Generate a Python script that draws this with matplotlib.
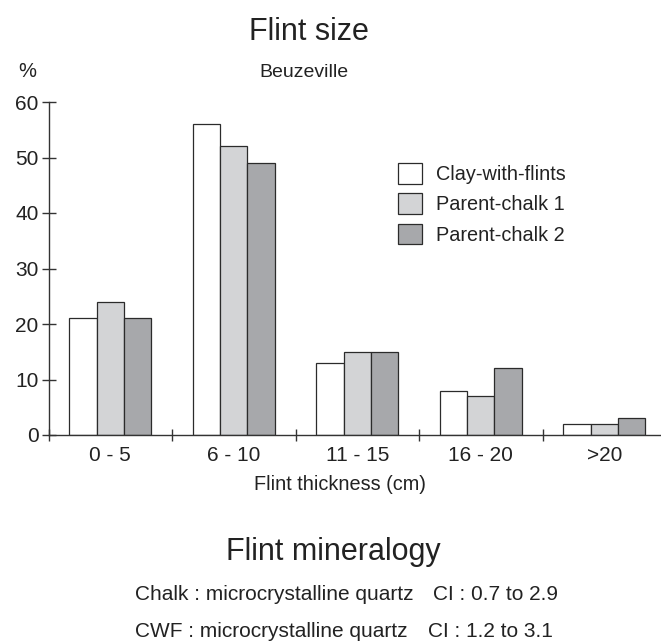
import numpy as np
import matplotlib
matplotlib.use("Agg")
import matplotlib.pyplot as plt

plt.rcParams['font.family'] = ['Liberation Sans', 'DejaVu Sans']

# data
categories = ['0 - 5', '6 - 10', '11 - 15', '16 - 20', '>20']
series_names = ['Clay-with-flints', 'Parent-chalk 1', 'Parent-chalk 2']
clay_with_flints = [21, 56, 13, 8, 2]
parent_chalk_1 = [24, 52, 15, 7, 2]
parent_chalk_2 = [21, 49, 15, 12, 3]
yticks = [0, 10, 20, 30, 40, 50, 60]

colors = ['#ffffff', '#d3d4d6', '#a7a8ab']
edge = '#2b2b2b'
txt = '#222222'

W, H = 661, 642
fig = plt.figure(figsize=(W / 100, H / 100), dpi=100)


def px(x, y):
    return x / W, 1 - y / H


# axes box in pixels: left 48.5, right 660, zero line at 435, 60 at 102
ax = fig.add_axes([48.5 / W, 1 - 435 / H, (660 - 48.5) / W, (435 - 102) / H])

x = np.arange(len(categories))
w = 0.222
series = [clay_with_flints, parent_chalk_1, parent_chalk_2]
for i, vals in enumerate(series):
    ax.bar(x + (i - 1) * w, vals, width=w, color=colors[i], edgecolor=edge,
           linewidth=0.9, label=series_names[i], zorder=2)

ax.set_xlim(-0.5, -0.5 + (660 - 48.5) / 123.5)
ax.set_ylim(0, 60)

for s in ['top', 'right']:
    ax.spines[s].set_visible(False)
for s in ['left', 'bottom']:
    ax.spines[s].set_color('#333333')
    ax.spines[s].set_linewidth(1.0)
    ax.spines[s].set_zorder(3)

ax.set_yticks(yticks)
ax.tick_params(axis='y', direction='inout', length=9.5, width=1.0, color='#333333',
               labelsize=15, labelcolor=txt, pad=2.5)

# boundary ticks without labels, category labels on minor ticks
ax.set_xticks(np.arange(len(categories)) - 0.5)
ax.set_xticklabels([])
ax.set_xticks(x, minor=True)
ax.set_xticklabels(categories, minor=True)
ax.tick_params(axis='x', which='major', direction='inout', length=8.5, width=1.0,
               color='#333333')
ax.tick_params(axis='x', which='minor', length=0, labelsize=15, labelcolor=txt, pad=8)

leg = ax.legend(loc='upper left', bbox_to_anchor=px(398, 163), bbox_transform=fig.transFigure,
                frameon=False, fontsize=14.3, handlelength=1.22, handleheight=1.22,
                labelspacing=0.47, handletextpad=0.7, borderpad=0, borderaxespad=0)
for t in leg.get_texts():
    t.set_color(txt)

fig.text(*px(309, 40), 'Flint size', fontsize=22, ha='center', va='baseline', color=txt)
fig.text(*px(304, 77), 'Beuzeville', fontsize=14, ha='center', va='baseline', color=txt)
fig.text(*px(27, 77), '%', fontsize=14.5, ha='center', va='baseline', color=txt)
fig.text(*px(340, 490), 'Flint thickness (cm)', fontsize=14.3, ha='center', va='baseline', color=txt)

fig.text(*px(333, 560), 'Flint mineralogy', fontsize=22, ha='center', va='baseline', color=txt)
fig.text(*px(135, 600), 'Chalk : microcrystalline quartz', fontsize=15, ha='left',
         va='baseline', color=txt)
fig.text(*px(433, 600), 'CI : 0.7 to 2.9', fontsize=15, ha='left', va='baseline', color=txt)
fig.text(*px(135, 637), 'CWF : microcrystalline quartz', fontsize=15, ha='left',
         va='baseline', color=txt)
fig.text(*px(428, 637), 'CI : 1.2 to 3.1', fontsize=15, ha='left', va='baseline', color=txt)

fig.savefig('out.png', dpi=100)
